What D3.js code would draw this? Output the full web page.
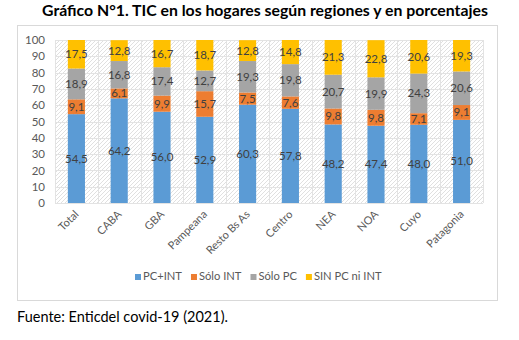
<html>
<head>
<meta charset="utf-8">
<script src="https://d3js.org/d3.v7.min.js"></script>
<style>
	body { margin: 0; background: #fff; }
	text { font-family: Lato, "Open Sans", sans-serif; }
</style>
</head>
<body>
<svg id="svg" width="519" height="340"></svg>
<script>
'use strict';

const categories = ['Total', 'CABA', 'GBA', 'Pampeana', 'Resto Bs As', 'Centro', 'NEA', 'NOA', 'Cuyo', 'Patagonia'];
const series_names = ['PC+INT', 'Sólo INT', 'Sólo PC', 'SIN PC ni INT'];
const pc_int = [54.5, 64.2, 56.0, 52.9, 60.3, 57.8, 48.2, 47.4, 48.0, 51.0];
const solo_int = [9.1, 6.1, 9.9, 15.7, 7.5, 7.6, 9.8, 9.8, 7.1, 9.1];
const solo_pc = [18.9, 16.8, 17.4, 12.7, 19.3, 19.8, 20.7, 19.9, 24.3, 20.6];
const sin_pc = [17.5, 12.8, 16.7, 18.7, 12.8, 14.8, 21.3, 22.8, 20.6, 19.3];
const y_ticks = [0, 10, 20, 30, 40, 50, 60, 70, 80, 90, 100];
const colors = ['#5b9bd5', '#ed7d31', '#a5a5a5', '#ffc000'];

const svg = d3.select('#svg');

// title
svg.append('text')
	.attr('x', 265)
	.attr('y', 16)
	.attr('text-anchor', 'middle')
	.attr('font-size', 15.8)
	.attr('font-weight', 'bold')
	.attr('fill', '#000')
	.text('Gráfico N°1. TIC en los hogares según regiones y en porcentajes');

// chart frame
svg.append('rect')
	.attr('x', 17.5)
	.attr('y', 25.5)
	.attr('width', 480)
	.attr('height', 275)
	.attr('fill', '#fff')
	.attr('stroke', '#d9d9d9');

const plot = {left: 55, right: 483, top: 40, bottom: 203};

const x = d3.scaleBand()
	.domain(categories)
	.range([plot.left, plot.right])
	.paddingInner(0.6)
	.paddingOuter(0.3);

const band = d3.scaleBand()
	.domain(categories)
	.range([plot.left, plot.right]);

const y = d3.scaleLinear()
	.domain([0, 100])
	.range([plot.bottom, plot.top]);

// hatched plot background
const defs = svg.append('defs');
const pat = defs.append('pattern')
	.attr('id', 'hatch')
	.attr('patternUnits', 'userSpaceOnUse')
	.attr('width', 4)
	.attr('height', 4);
pat.append('path')
	.attr('d', 'M-1,1 l2,-2 M0,4 l4,-4 M3,5 l2,-2')
	.attr('stroke', '#e0e0e0')
	.attr('stroke-width', 1);

svg.append('rect')
	.attr('x', plot.left)
	.attr('y', plot.top)
	.attr('width', plot.right - plot.left)
	.attr('height', plot.bottom - plot.top)
	.attr('fill', 'url(#hatch)');

// grid
const grid = svg.append('g');
grid.selectAll('line.h')
	.data(y_ticks)
	.join('line')
	.attr('class', 'h')
	.attr('x1', plot.left)
	.attr('x2', plot.right)
	.attr('y1', d => Math.round(y(d)) + 0.5)
	.attr('y2', d => Math.round(y(d)) + 0.5)
	.attr('stroke', '#e3e3e3');
grid.selectAll('line.v')
	.data(categories)
	.join('line')
	.attr('class', 'v')
	.attr('x1', d => Math.round(band(d) + band.bandwidth()) + 0.5)
	.attr('x2', d => Math.round(band(d) + band.bandwidth()) + 0.5)
	.attr('y1', plot.top)
	.attr('y2', plot.bottom)
	.attr('stroke', '#e3e3e3');
grid.append('line')
	.attr('x1', plot.left + 0.5)
	.attr('x2', plot.left + 0.5)
	.attr('y1', plot.top)
	.attr('y2', plot.bottom)
	.attr('stroke', '#e3e3e3');

// y axis
const yAxis = svg.append('g')
	.attr('transform', `translate(${plot.left},0)`)
	.call(d3.axisLeft(y).tickValues(y_ticks).tickSize(0).tickPadding(10));
yAxis.select('.domain').remove();
yAxis.selectAll('text')
	.attr('font-family', 'Lato, sans-serif')
	.attr('font-size', 11.5)
	.attr('fill', '#595959');

// stacked bars
const rows = categories.map((c, i) => ({
	cat: c,
	'PC+INT': pc_int[i],
	'Sólo INT': solo_int[i],
	'Sólo PC': solo_pc[i],
	'SIN PC ni INT': sin_pc[i]
}));
const stacked = d3.stack().keys(series_names)(rows);

const layers = svg.append('g')
	.selectAll('g')
	.data(stacked)
	.join('g')
	.attr('fill', (d, i) => colors[i]);

layers.selectAll('rect')
	.data(d => d)
	.join('rect')
	.attr('x', d => x(d.data.cat))
	.attr('width', x.bandwidth())
	.attr('y', d => y(d[1]))
	.attr('height', d => y(d[0]) - y(d[1]));

// value labels
const labels = svg.append('g');
stacked.forEach(layer => {
	labels.selectAll(null)
		.data(layer)
		.join('text')
		.attr('x', d => x(d.data.cat) + x.bandwidth() / 2)
		.attr('y', d => y((d[0] + d[1]) / 2) + 4)
		.attr('text-anchor', 'middle')
		.attr('font-size', 11.5)
		.attr('fill', '#404040')
		.text(d => d3.format('.1f')(d[1] - d[0]).replace('.', ','));
});

// category labels
svg.append('g')
	.selectAll('text')
	.data(categories)
	.join('text')
	.attr('transform', d => `translate(${band(d) + band.bandwidth() / 2 + 3},${plot.bottom + 12}) rotate(-45)`)
	.attr('text-anchor', 'end')
	.attr('font-size', 11)
	.attr('fill', '#595959')
	.text(d => d);

// legend
const legend = svg.append('g')
	.attr('transform', 'translate(135,280)');
let lx = 0;
series_names.forEach((name, i) => {
	const g = legend.append('g').attr('transform', `translate(${lx},0)`);
	g.append('rect')
		.attr('x', 0)
		.attr('y', -6)
		.attr('width', 6)
		.attr('height', 6)
		.attr('fill', colors[i]);
	const t = g.append('text')
		.attr('x', 8)
		.attr('y', 0)
		.attr('font-size', 11.2)
		.attr('fill', '#595959')
		.text(name);
	lx += 8 + t.node().getComputedTextLength() + 9;
});

// source
svg.append('text')
	.attr('x', 17)
	.attr('y', 322)
	.attr('font-size', 14.5)
	.attr('fill', '#000')
	.text('Fuente: Enticdel covid-19 (2021).');
</script>
</body>
</html>
